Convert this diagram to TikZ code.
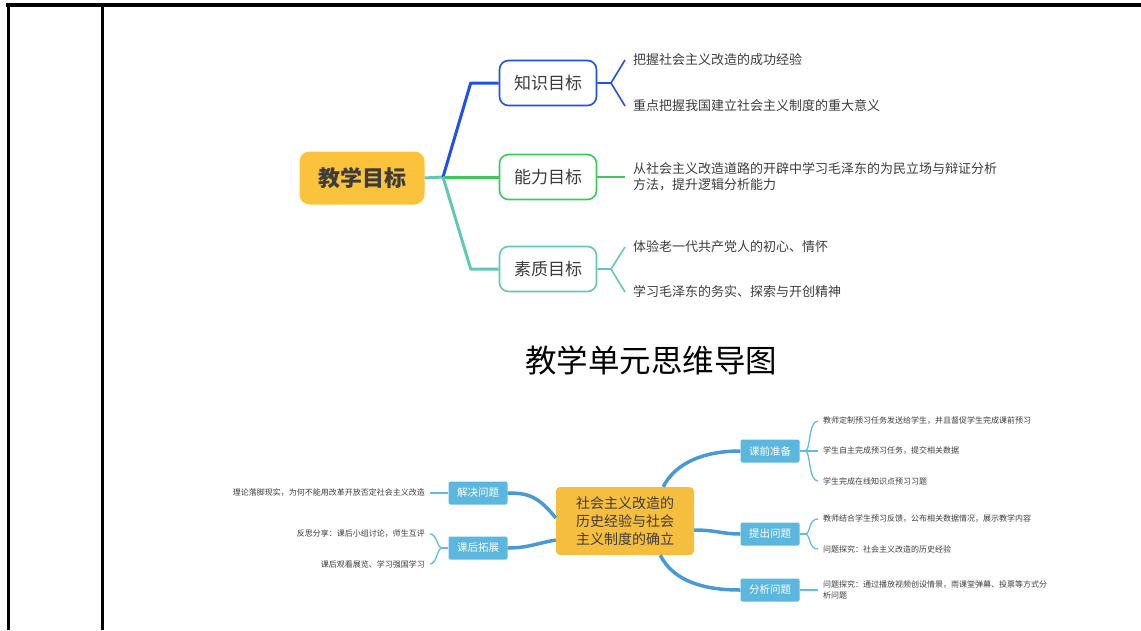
\documentclass[tikz,border=0pt]{standalone}
\usepackage{fontspec}
\setmainfont{Noto Sans CJK SC}
\usetikzlibrary{positioning}

\definecolor{goalgold}{RGB}{251,195,60}
\definecolor{knowblue}{RGB}{32,80,230}
\definecolor{abilgreen}{RGB}{60,200,90}
\definecolor{qualteal}{RGB}{98,200,178}
\definecolor{unitgold}{RGB}{245,190,62}
\definecolor{stepfill}{RGB}{92,183,223}
\definecolor{stepline}{RGB}{74,152,212}
\definecolor{twigline}{RGB}{100,186,226}
\definecolor{leafgray}{RGB}{60,60,60}

\begin{document}
\begin{tikzpicture}[x=1pt, y=-1pt,
  root/.style={rectangle, fill=goalgold, rounded corners=10pt, minimum width=125pt, minimum height=53pt, text=leafgray, font=\fontsize{22}{26}\selectfont\bfseries},
  branch/.style={rectangle, draw, fill=white, line width=1.6pt, rounded corners=9pt, minimum width=97pt, minimum height=45pt, text=leafgray, font=\fontsize{17}{20}\selectfont},
  leaf/.style={anchor=west, inner xsep=8pt, inner ysep=0pt, text=leafgray, align=left, font=\fontsize{13}{16}\selectfont},
  trunk/.style={line width=3pt, line join=round},
  twig/.style={line width=1.6pt},
  unit/.style={rectangle, fill=unitgold, rounded corners=4pt, minimum width=138pt, minimum height=68pt, align=center, text=leafgray, font=\fontsize{14}{18}\selectfont},
  stepbox/.style={rectangle, fill=stepfill, rounded corners=2pt, minimum width=59pt, minimum height=23pt, text=white, font=\fontsize{10.5}{12}\selectfont},
  note/.style={inner xsep=5pt, inner ysep=0pt, text=leafgray, align=left, font=\fontsize{8}{12}\selectfont},
  mainline/.style={line width=3.5pt, stepline},
  thinline/.style={line width=1.3pt, twigline}
]
\useasboundingbox (0,0) rectangle (1141,630);

% Table frame
\draw[line width=4pt] (6,5) -- (1141,5);
\draw[line width=3pt] (8,5) -- (8,630);
\draw[line width=3pt] (102,5) -- (102,630);

% Teaching goals
\node[root] (goal) at (362,178) {教学目标};
\coordinate (hub) at (443,177);
\node[branch, draw=knowblue] (know) at (548,83) {知识目标};
\node[branch, draw=abilgreen] (abil) at (548,177) {能力目标};
\node[branch, draw=qualteal] (qual) at (548,269) {素质目标};

\draw[trunk, qualteal] (goal.east) -- (hub);
\draw[trunk, knowblue] (hub) -- ([xshift=-28pt]know.west) -- (know.west);
\draw[trunk, abilgreen] (hub) -- (abil.west);
\draw[trunk, qualteal] (hub) -- ([xshift=-28pt]qual.west) -- (qual.west);

% Goal details
\coordinate (knowfork) at (611,83);
\node[leaf] (know1) at (625,60) {把握社会主义改造的成功经验};
\node[leaf] (know2) at (625,106) {重点把握我国建立社会主义制度的重大意义};
\draw[twig, knowblue] (know.east) -- (knowfork) -- (know1.west);
\draw[twig, knowblue] (knowfork) -- (know2.west);

\node[leaf] (abil1) at (625,177) {从社会主义改造道路的开辟中学习毛泽东的为民立场与辩证分析\\方法，提升逻辑分析能力};
\draw[twig, abilgreen] (abil.east) -- (abil1.west);

\coordinate (qualfork) at (611,269);
\node[leaf] (qual1) at (625,247) {体验老一代共产党人的初心、情怀};
\node[leaf] (qual2) at (625,292) {学习毛泽东的务实、探索与开创精神};
\draw[twig, qualteal] (qual.east) -- (qualfork) -- (qual1.west);
\draw[twig, qualteal] (qualfork) -- (qual2.west);

% Title
\node[font=\fontsize{31.5}{36}\selectfont] (title) at (651,360) {教学单元思维导图};

% Unit mind map
\node[unit] (unit) at (625,521) {社会主义改造的\\历史经验与社会\\主义制度的确立};
\node[stepbox] (prep) at (770,451) {课前准备};
\node[stepbox] (ask) at (770,534) {提出问题};
\node[stepbox] (anal) at (770,590) {分析问题};
\node[stepbox] (solve) at (478,493) {解决问题};
\node[stepbox] (after) at (478,548) {课后拓展};

\draw[mainline] ([xshift=-31pt]unit.north east) .. controls (676,462) and (705,451) .. (prep.west);
\draw[mainline] ([yshift=-9pt]unit.east) .. controls (716,530) and (722,534) .. (ask.west);
\draw[mainline] ([xshift=-34pt]unit.south east) .. controls (674,582) and (705,590) .. (anal.west);
\draw[mainline] ([yshift=3pt]unit.west) .. controls (538,496) and (528,493) .. (solve.east);
\draw[mainline] ([yshift=-19pt]unit.west) .. controls (538,543) and (528,548) .. (after.east);

% Step details, right
\coordinate (prepfork) at (805,451);
\node[note, anchor=west] (prep1) at (818,421) {教师定制预习任务发送给学生，并且督促学生完成课前预习};
\node[note, anchor=west] (prep2) at (818,451) {学生自主完成预习任务，提交相关数据};
\node[note, anchor=west] (prep3) at (818,481) {学生完成在线知识点预习习题};
\draw[thinline] (prep.east) -- (prepfork) -- (prep2.west);
\draw[thinline] (prepfork) .. controls (811,451) and (808,421) .. (prep1.west);
\draw[thinline] (prepfork) .. controls (811,451) and (808,481) .. (prep3.west);

\coordinate (askfork) at (805,534);
\node[note, anchor=west] (ask1) at (818,519) {教师结合学生预习反馈，公布相关数据情况，展示教学内容};
\node[note, anchor=west] (ask2) at (818,549) {问题探究：社会主义改造的历史经验};
\draw[thinline] (ask.east) -- (askfork);
\draw[thinline] (askfork) .. controls (811,534) and (808,519) .. (ask1.west);
\draw[thinline] (askfork) .. controls (811,534) and (808,549) .. (ask2.west);

\node[note, anchor=west, font=\fontsize{8}{11}\selectfont] (anal1) at (818,590) {问题探究：通过播放视频创设情景，雨课堂弹幕、投票等方式分\\析问题};
\draw[thinline] (anal.east) -- (anal1.west);

% Step details, left
\node[note, anchor=east] (solve1) at (430,493) {理论落脚现实，为何不能用改革开放否定社会主义改造};
\draw[thinline] (solve.west) -- (solve1.east);

\coordinate (afterfork) at (442,548);
\node[note, anchor=east] (after1) at (430,534) {反思分享：课后小组讨论，师生互评};
\node[note, anchor=east] (after2) at (430,564) {课后观看展览、学习强国学习};
\draw[thinline] (after.west) -- (afterfork);
\draw[thinline] (afterfork) .. controls (437,548) and (437,534) .. (after1.east);
\draw[thinline] (afterfork) .. controls (437,548) and (437,564) .. (after2.east);
\end{tikzpicture}
\end{document}
